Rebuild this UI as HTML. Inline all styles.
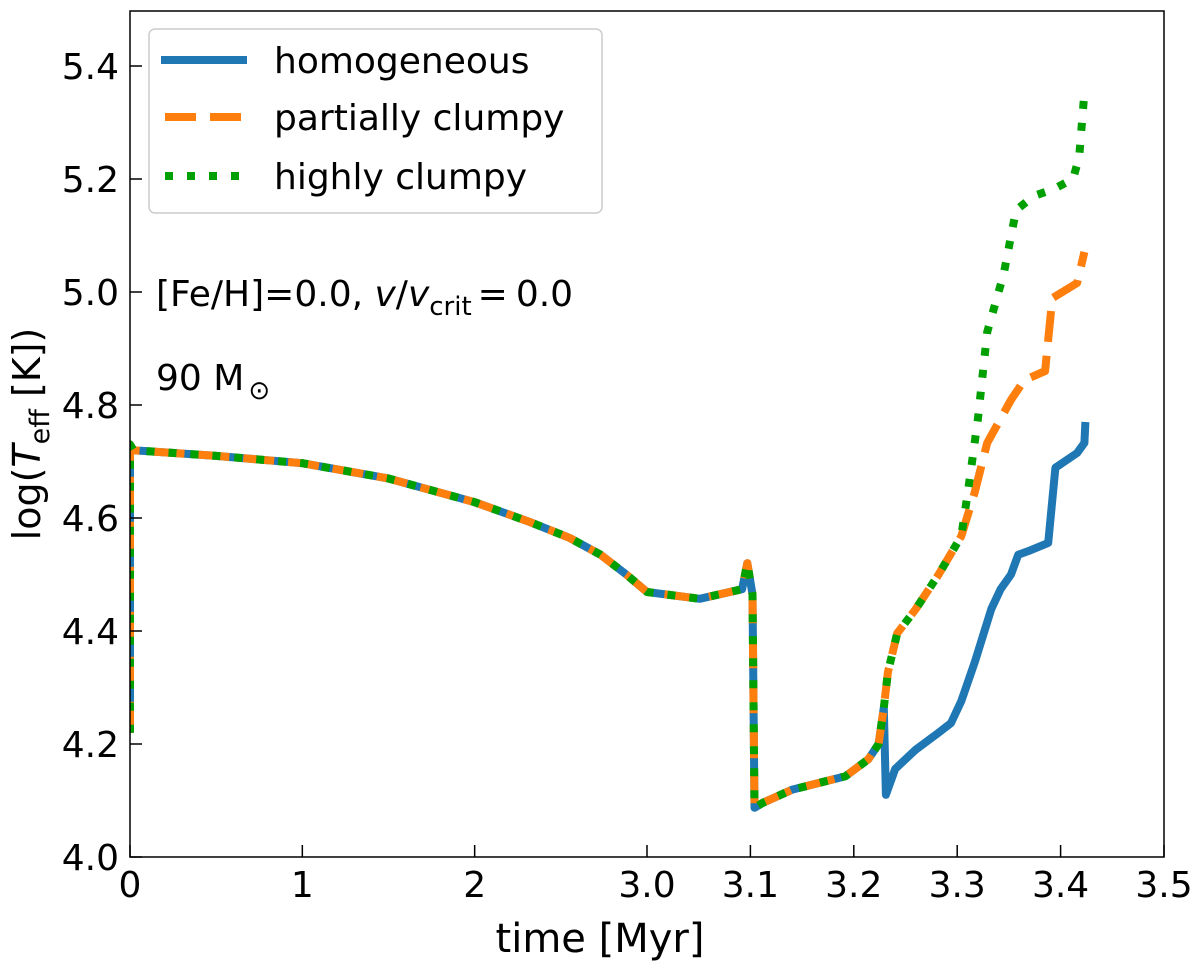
<!DOCTYPE html>
<html><head><meta charset="utf-8">
<style>
body{margin:0;background:#fff;}
svg{display:block;font-family:"DejaVu Sans","Liberation Sans",sans-serif;}
</style></head>
<body>
<svg id="chart" width="1200" height="970" viewBox="0 0 1200 970">
<defs><clipPath id="clip"><rect x="130" y="11" width="1034" height="846"/></clipPath></defs>
<g id="plot" clip-path="url(#clip)"></g>
<rect x="130" y="11" width="1034" height="846" fill="none" stroke="#000" stroke-width="1.5"/>
<g id="axes"></g>
<text x="600" y="952" font-size="40" text-anchor="middle">time [Myr]</text>
<text transform="translate(40,434) rotate(-90)" font-size="38" text-anchor="middle">log(<tspan font-style="italic">T</tspan><tspan font-size="27" dy="9">eff</tspan><tspan dy="-9"> [K])</tspan></text>
<g>
<rect x="149" y="29" width="453" height="184" rx="6" fill="#fff" stroke="#ccc" stroke-width="1.5"/>
<line x1="161" y1="60" x2="247" y2="60" stroke="#1f77b4" stroke-width="8"/>
<text x="274" y="73" font-size="36">homogeneous</text>
<line x1="165" y1="117" x2="247" y2="117" stroke="#ff7f0e" stroke-width="8" stroke-dasharray="31 14"/>
<text x="274" y="130" font-size="36">partially clumpy</text>
<line x1="165" y1="176" x2="247" y2="176" stroke="#00a000" stroke-width="8" stroke-dasharray="8 14"/>
<text x="274" y="189" font-size="36">highly clumpy</text>
</g>
<text x="156" y="306" font-size="36">[Fe/H]=0.0, <tspan font-style="italic">v</tspan>/<tspan font-style="italic">v</tspan><tspan font-size="26" dy="9">crit</tspan><tspan dy="-9" dx="6">=</tspan><tspan dx="8">0.0</tspan></text>
<text x="156" y="390" font-size="36">90 M<tspan font-size="26" dy="9" dx="4">⊙</tspan></text>
</svg>
<script>
const xTicks = [0,1,2,3.0,3.1,3.2,3.3,3.4,3.5];
const xTickLabels = ["0","1","2","3.0","3.1","3.2","3.3","3.4","3.5"];
const yTicks = [4.0,4.2,4.4,4.6,4.8,5.0,5.2,5.4];
const yTickLabels = ["4.0","4.2","4.4","4.6","4.8","5.0","5.2","5.4"];
const tCommon = [0,0,0.02,0.5,1,1.5,2,2.32,2.55,2.73,2.88,3.0,3.051,3.092,3.097,3.102,3.104,3.112,3.140,3.192,3.214,3.224,3.229];
const vCommon = [4.22,4.73,4.72,4.71,4.697,4.67,4.628,4.593,4.565,4.535,4.50,4.469,4.457,4.474,4.52,4.465,4.087,4.096,4.119,4.143,4.173,4.20,4.264];
const tHomog = [3.231,3.240,3.260,3.282,3.294,3.304,3.317,3.333,3.342,3.352,3.359,3.371,3.388,3.395,3.416,3.423,3.424];
const vHomog = [4.11,4.156,4.19,4.22,4.237,4.276,4.345,4.439,4.474,4.50,4.535,4.543,4.556,4.689,4.715,4.733,4.77];
const tPartial = [3.233,3.242,3.260,3.282,3.304,3.317,3.329,3.352,3.365,3.385,3.392,3.416,3.423];
const vPartial = [4.327,4.396,4.439,4.50,4.568,4.646,4.733,4.809,4.844,4.86,4.989,5.016,5.071];
const tHighly = [3.233,3.242,3.260,3.282,3.304,3.311,3.320,3.329,3.345,3.357,3.374,3.393,3.412,3.418,3.423];
const vHighly = [4.327,4.396,4.439,4.50,4.568,4.655,4.775,4.929,5.032,5.145,5.17,5.182,5.20,5.239,5.354];

function xs(t){ return t<=3 ? 130 + t*172.33 : 647 + (t-3)*1034; }
function ys(v){ return 857 - (v-4)*565; }
const NS="http://www.w3.org/2000/svg";
const plot=document.getElementById('plot'), axes=document.getElementById('axes');
function mk(tag, attrs, parent){ const e=document.createElementNS(NS,tag); for(const k in attrs) e.setAttribute(k,attrs[k]); parent.appendChild(e); return e; }

xTicks.forEach((t,i)=>{
  const l=mk('line',{x1:xs(t),x2:xs(t),y1:857,y2:845,stroke:'#000','stroke-width':1.5},axes);
  
  
  const tx=mk('text',{x:xs(t),y:897,'font-size':36,'text-anchor':'middle'},axes);
  tx.textContent=xTickLabels[i];
  
  
});
yTicks.forEach((v,i)=>{
  const l=mk('line',{x1:130,x2:142,y1:ys(v),y2:ys(v),stroke:'#000','stroke-width':1.5},axes);
  
  
  const tx=mk('text',{x:119,y:ys(v)+13,'font-size':36,'text-anchor':'end'},axes);
  tx.textContent=yTickLabels[i];
  
  
});
function path(ts,vs){ return ts.map((t,i)=>(i?'L':'M')+xs(t).toFixed(1)+','+ys(vs[i]).toFixed(1)).join(' '); }
const series=[
  {t:tCommon.concat(tHomog),v:vCommon.concat(vHomog),c:'#1f77b4',d:'',n:'homogeneous-line'},
  {t:tCommon.concat(tPartial),v:vCommon.concat(vPartial),c:'#ff7f0e',d:'31 14',n:'partially-clumpy-line'},
  {t:tCommon.concat(tHighly),v:vCommon.concat(vHighly),c:'#00a000',d:'8 14',n:'highly-clumpy-line'}
];
series.forEach(s=>{
  const p=mk('path',{d:path(s.t,s.v),fill:'none',stroke:s.c,'stroke-width':8,'stroke-linejoin':'round'},plot);
  if(s.d) p.setAttribute('stroke-dasharray',s.d);
  
  
});
</script>
</body></html>
